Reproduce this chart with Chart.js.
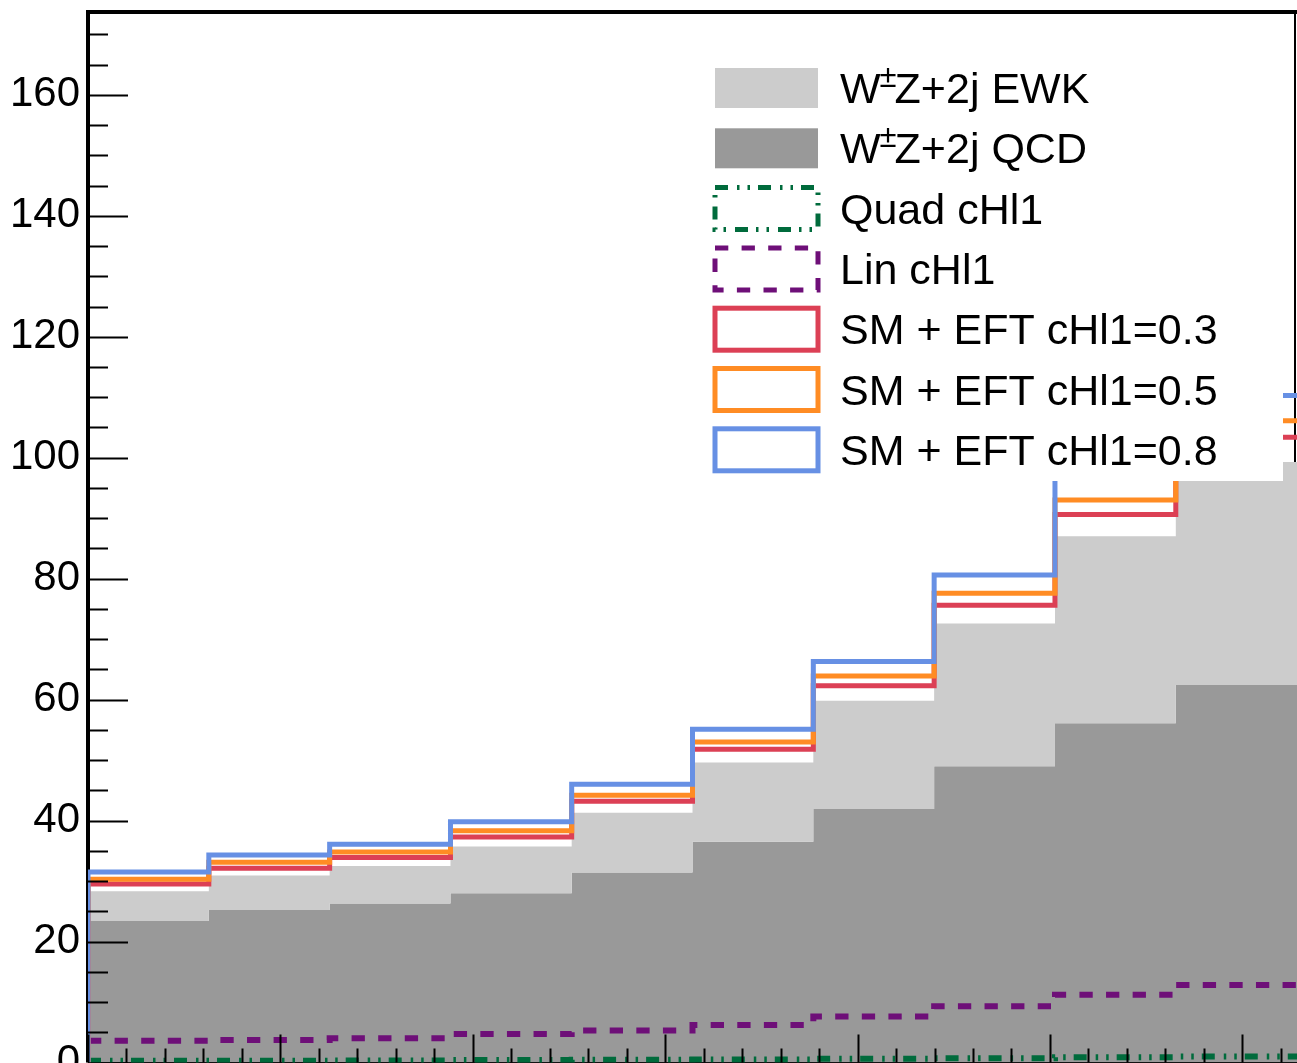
<!DOCTYPE html>
<html>
<head>
<meta charset="utf-8">
<script src="https://cdn.jsdelivr.net/npm/chart.js@4.4.1/dist/chart.umd.min.js"></script>
<style>
  html, body { margin: 0; padding: 0; background: #fff; overflow: hidden; }
  canvas { display: block; }
</style>
</head>
<body>
<canvas id="chart" width="1297" height="1063"></canvas>
<script>
// ------------- DATA -------------

const binEdges = [0, 0.314, 0.628, 0.942, 1.257, 1.571, 1.885, 2.199, 2.513, 2.827, 3.142];

const qcd   = [23.4, 25.2, 26.3, 28.0, 31.4, 36.5, 41.9, 49.0, 56.1, 62.4];
const ewk   = [4.9, 5.7, 6.2, 7.7, 9.9, 13.1, 17.9, 23.6, 30.9, 36.9];
const quad  = [0.3, 0.3, 0.35, 0.4, 0.45, 0.5, 0.6, 0.7, 0.85, 1.0];
const lin   = [3.6, 3.7, 4.0, 4.7, 5.3, 6.2, 7.6, 9.3, 11.2, 12.8];
const eft03 = [29.5, 32.1, 33.9, 37.3, 43.2, 51.8, 62.3, 75.6, 90.6, 103.4];
const eft05 = [30.3, 33.1, 34.8, 38.3, 44.2, 53.0, 63.9, 77.6, 93.0, 106.1];
const eft08 = [31.5, 34.3, 36.1, 39.8, 46.0, 55.1, 66.3, 80.6, 97.0, 110.3];

const yTicks = [0, 20, 40, 60, 80, 100, 120, 140, 160];

const FONT = "'Liberation Sans', Arial, Helvetica, sans-serif";

// histogram -> stepped points, optionally starting from zero at the left edge
function histo(vals, close) {
  const pts = [];
  if (close) pts.push({ x: binEdges[0], y: 0 });
  vals.forEach((v, i) => pts.push({ x: binEdges[i], y: v }));
  pts.push({ x: binEdges[binEdges.length - 1], y: vals[vals.length - 1] });
  return pts;
}

const ewkTop = qcd.map((v, i) => v + ewk[i]);

const datasets = [
  { label: "QCD", data: histo(qcd, false), borderWidth: 0, pointRadius: 0,
    backgroundColor: "#999999", fill: "origin", stepped: "before", order: 6 },
  { label: "EWK", data: histo(ewkTop, false), borderWidth: 0, pointRadius: 0,
    backgroundColor: "#cccccc", fill: { target: 0 }, stepped: "before", order: 5 },
  { label: "Quad cHl1", data: histo(quad, false), borderColor: "#006b3c", borderWidth: 6,
    borderDash: [13, 9, 2.5, 8, 2.5, 8], pointRadius: 0, fill: false, stepped: "before", order: 4 },
  { label: "Lin cHl1", data: histo(lin, false), borderColor: "#6e0f78", borderWidth: 6,
    borderDash: [13.3, 13.3], pointRadius: 0, fill: false, stepped: "before", order: 3 },
  { label: "SM + EFT cHl1=0.3", data: histo(eft03, true), borderColor: "#dc4055", borderWidth: 5,
    pointRadius: 0, fill: false, stepped: "before", order: 2 },
  { label: "SM + EFT cHl1=0.5", data: histo(eft05, true), borderColor: "#ff8c24", borderWidth: 5,
    pointRadius: 0, fill: false, stepped: "before", order: 1 },
  { label: "SM + EFT cHl1=0.8", data: histo(eft08, true), borderColor: "#6790e4", borderWidth: 5,
    pointRadius: 0, fill: false, stepped: "before", order: 0 },
];

// ------------- FRAME / TICKS (ROOT style, inward) -------------

const framePlugin = {
  id: "frame",
  beforeDatasetsDraw(chart) {
    const { ctx, chartArea: a } = chart;
    ctx.save();
    ctx.strokeStyle = "#000";
    ctx.lineWidth = 2;
    ctx.beginPath();
    ctx.moveTo(a.right - 2, a.top);
    ctx.lineTo(a.right - 2, a.bottom);
    ctx.stroke();
    ctx.lineWidth = 4;
    ctx.beginPath();
    ctx.moveTo(a.left, a.bottom);
    ctx.lineTo(a.left, a.top);
    ctx.lineTo(a.right, a.top);
    ctx.moveTo(a.left, a.bottom - 1);
    ctx.lineTo(a.right, a.bottom - 1);
    ctx.stroke();
    ctx.restore();
  },
  afterDatasetsDraw(chart) {
    const { ctx, chartArea: a, scales } = chart;
    const xs = scales.x, ys = scales.y;
    ctx.save();
    ctx.strokeStyle = "#000";
    ctx.lineWidth = 2;
    ctx.beginPath();
    // y ticks every 5, major every 20
    for (let v = 0; v <= ys.max; v += 5) {
      const py = Math.round(ys.getPixelForValue(v)) + 0.5;
      const len = v % 20 === 0 ? 40 : 20;
      ctx.moveTo(a.left, py);
      ctx.lineTo(a.left + len, py);
    }
    // x ticks every 0.1, major every 0.5
    for (let k = 0; k * 0.1 <= xs.max + 1e-6; k++) {
      const px = Math.round(xs.getPixelForValue(k * 0.1)) + 0.5;
      const len = k % 5 === 0 ? 28 : 14;
      ctx.moveTo(px, a.bottom);
      ctx.lineTo(px, a.bottom - len);
    }
    ctx.stroke();
    ctx.restore();
  },
};

// ------------- LEGEND -------------

const legendRows = [
  { pre: "W", sup: "\u00b1", post: "Z+2j EWK", fill: "#cccccc" },
  { pre: "W", sup: "\u00b1", post: "Z+2j QCD", fill: "#999999" },
  { pre: "Quad cHl1", line: "#006b3c", dash: [13, 9, 2.5, 8, 2.5, 8] },
  { pre: "Lin cHl1", line: "#6e0f78", dash: [13.3, 13.3] },
  { pre: "SM + EFT cHl1=0.3", line: "#dc4055", dash: [] },
  { pre: "SM + EFT cHl1=0.5", line: "#ff8c24", dash: [] },
  { pre: "SM + EFT cHl1=0.8", line: "#6790e4", dash: [] },
];

const legendPlugin = {
  id: "rootLegend",
  afterDraw(chart) {
    const ctx = chart.ctx;
    ctx.save();
    ctx.fillStyle = "#fff";
    ctx.fillRect(700, 50, 583, 431);
    legendRows.forEach((r, i) => {
      const cy = 88 + i * 60.3;
      const bx = 715, bw = 103, bh = 42;
      if (r.fill) {
        ctx.fillStyle = r.fill;
        ctx.fillRect(bx, cy - 20, bw, 40);
      } else {
        ctx.strokeStyle = r.line;
        ctx.lineWidth = 5;
        ctx.setLineDash(r.dash);
        ctx.strokeRect(bx, cy - bh / 2, bw, bh);
        ctx.setLineDash([]);
      }
      ctx.fillStyle = "#000";
      ctx.textBaseline = "alphabetic";
      ctx.textAlign = "left";
      ctx.font = "43px " + FONT;
      let x = 840;
      const base = cy + 15;
      ctx.fillText(r.pre, x, base);
      if (r.sup) {
        x += ctx.measureText(r.pre).width;
        ctx.font = "31px " + FONT;
        ctx.fillText(r.sup, x - 1, base - 16);
        x += ctx.measureText(r.sup).width - 3;
        ctx.font = "43px " + FONT;
        ctx.fillText(r.post, x, base);
      }
    });
    ctx.restore();
  },
};

// ------------- CHART -------------

new Chart(document.getElementById("chart"), {
  type: "line",
  data: { datasets: datasets },
  options: {
    responsive: false,
    devicePixelRatio: 1,
    animation: false,
    layout: { padding: { top: 12, right: 0, left: 0, bottom: 0.5 } },
    plugins: { legend: { display: false }, tooltip: { enabled: false } },
    elements: { line: { tension: 0, borderCapStyle: "butt", borderJoinStyle: "miter" } },
    scales: {
      x: {
        type: "linear",
        min: binEdges[0],
        max: binEdges[binEdges.length - 1],
        grid: { display: false, drawTicks: false },
        border: { display: false },
        ticks: { display: false },
        afterFit: (s) => { s.height = 0; s.paddingLeft = 0; s.paddingRight = 0; },
      },
      y: {
        type: "linear",
        min: 0,
        max: 173.7,
        grid: { display: false, drawTicks: false },
        border: { display: false },
        afterFit: (s) => { s.width = 88; s.paddingTop = 0; s.paddingBottom = 0; },
        afterBuildTicks: (s) => { s.ticks = yTicks.map((v) => ({ value: v })); },
        ticks: {
          padding: 8,
          color: "#000",
          font: { family: FONT, size: 42 },
        },
      },
    },
  },
  plugins: [framePlugin, legendPlugin],
});
</script>
</body>
</html>
